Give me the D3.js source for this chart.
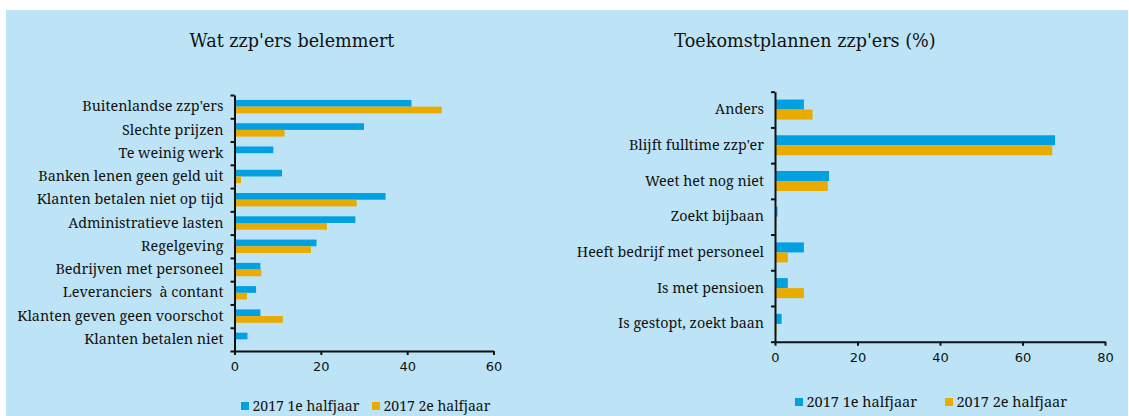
<!DOCTYPE html>
<html>
<head>
<meta charset="utf-8">
<script src="https://cdn.jsdelivr.net/npm/d3@7"></script>
<style>
  body { margin: 0; background: #fff; }
  .lbl { font-family: "Noto Serif", "DejaVu Serif", serif; fill: #111; white-space: pre; }
  .ttl { font-family: "DejaVu Serif", serif; fill: #111; }
  .num { font-family: "DejaVu Sans", sans-serif; fill: #111; }
</style>
</head>
<body>
<svg id="chart" width="1129" height="416"></svg>
<script>
// left panel: belemmeringen
var leftCats = ["Buitenlandse zzp'ers", "Slechte prijzen", "Te weinig werk", "Banken lenen geen geld uit",
                "Klanten betalen niet op tijd", "Administratieve lasten", "Regelgeving", "Bedrijven met personeel",
                "Leveranciers  à contant", "Klanten geven geen voorschot", "Klanten betalen niet"];
var leftH1 = [41, 30, 9, 11, 35, 28, 19, 6, 5, 6, 3];
var leftH2 = [48, 11.6, 0, 1.5, 28.3, 21.4, 17.7, 6.2, 2.9, 11.2, 0];
var leftTicks = [0, 20, 40, 60];

// right panel: toekomstplannen
var rightCats = ["Anders", "Blijft fulltime zzp'er", "Weet het nog niet", "Zoekt bijbaan",
                 "Heeft bedrijf met personeel", "Is met pensioen", "Is gestopt, zoekt baan"];
var rightH1 = [7, 67.9, 13.1, 0.6, 7, 3.1, 1.6];
var rightH2 = [9.1, 67.2, 12.8, 0.35, 3.1, 7, 0.35];
var rightTicks = [0, 20, 40, 60, 80];

var seriesNames = ["2017 1e halfjaar", "2017 2e halfjaar"];
var colors = ["#00a0e1", "#e9ab00"];

var svg = d3.select("#chart");
svg.append("rect")
    .attr("x", 6).attr("y", 10)
    .attr("width", 1122).attr("height", 406)
    .attr("fill", "#bde4f6");

var drawPanel = function(o) {
    var g = svg.append("g");
    var rows = o.cats.map(function(c, i) { return { cat: c, vals: [o.h1[i], o.h2[i]] }; });

    var x = d3.scaleLinear().domain([0, o.max]).range([o.x0, o.x1]);
    var y = d3.scaleBand().domain(o.cats).range([o.y0, o.y1]).padding(0);
    var sub = d3.scaleBand().domain([0, 1]).range([0, y.bandwidth()])
        .paddingInner(0).paddingOuter(o.outer);
    // boundaries between categories, for the tick marks
    var yB = d3.scaleLinear().domain([0, o.cats.length]).range([o.y0, o.y1]);

    g.append("text")
        .attr("class", "ttl")
        .attr("x", o.titleX).attr("y", 47)
        .attr("text-anchor", "middle")
        .style("font-size", "17.6px")
        .text(o.title);

    var grp = g.selectAll(".row").data(rows).enter().append("g")
        .attr("transform", function(d) { return "translate(0," + y(d.cat) + ")"; });
    grp.selectAll("rect").data(function(d) { return d.vals; }).enter().append("rect")
        .attr("x", x(0))
        .attr("y", function(v, i) { return sub(i); })
        .attr("width", function(v) { return x(v) - x(0); })
        .attr("height", sub.bandwidth())
        .attr("fill", function(v, i) { return colors[i]; });

    // category labels
    g.append("g")
        .attr("transform", "translate(" + x(0) + ",0)")
        .call(d3.axisLeft(y).tickSize(0).tickPadding(o.pad))
        .call(function(a) { a.select(".domain").remove(); })
        .selectAll("text")
        .attr("class", "lbl")
        .style("font-size", o.fs + "px");

    // y axis line and boundary ticks
    g.append("g")
        .attr("transform", "translate(" + x(0) + ",0)")
        .call(d3.axisLeft(yB).tickValues(d3.range(o.cats.length + 1)).tickFormat("").tickSize(4).tickSizeOuter(0))
        .call(function(a) {
            a.selectAll("line, path").attr("stroke", "#111").attr("stroke-width", 2);
        });

    // x axis
    g.append("g")
        .attr("transform", "translate(0," + o.y1 + ")")
        .call(d3.axisBottom(x).tickValues(o.ticks).tickSize(4).tickSizeOuter(0).tickPadding(o.tickPad))
        .call(function(a) {
            a.selectAll("line, path").attr("stroke", "#111").attr("stroke-width", 2);
            a.selectAll("text").attr("class", "num").style("font-size", "13px");
        });

    // legend
    var lg = g.selectAll(".leg").data(seriesNames).enter().append("g")
        .attr("transform", function(d, i) { return "translate(" + o.legX[i] + "," + o.legY + ")"; });
    lg.append("rect")
        .attr("x", 0).attr("y", -9)
        .attr("width", 8).attr("height", 8)
        .attr("fill", function(d, i) { return colors[i]; });
    lg.append("text")
        .attr("class", "lbl")
        .attr("x", 11.5).attr("y", 0)
        .style("font-size", o.legFs + "px")
        .text(function(d) { return d; });
};

drawPanel({
    title: "Wat zzp'ers belemmert", titleX: 292,
    cats: leftCats, h1: leftH1, h2: leftH2, ticks: leftTicks, max: 60,
    x0: 234.5, x1: 493.5, y0: 95, y1: 351, outer: 0.74,
    fs: 14.4, pad: 11, tickPad: 7,
    legX: [241, 372], legY: 411, legFs: 14
});

drawPanel({
    title: "Toekomstplannen zzp'ers (%)", titleX: 805,
    cats: rightCats, h1: rightH1, h2: rightH2, ticks: rightTicks, max: 80,
    x0: 775, x1: 1105, y0: 91.7, y1: 341.7, outer: 0.785,
    fs: 14.3, pad: 11, tickPad: 7,
    legX: [795, 945], legY: 407, legFs: 14.5
});
</script>
</body>
</html>
